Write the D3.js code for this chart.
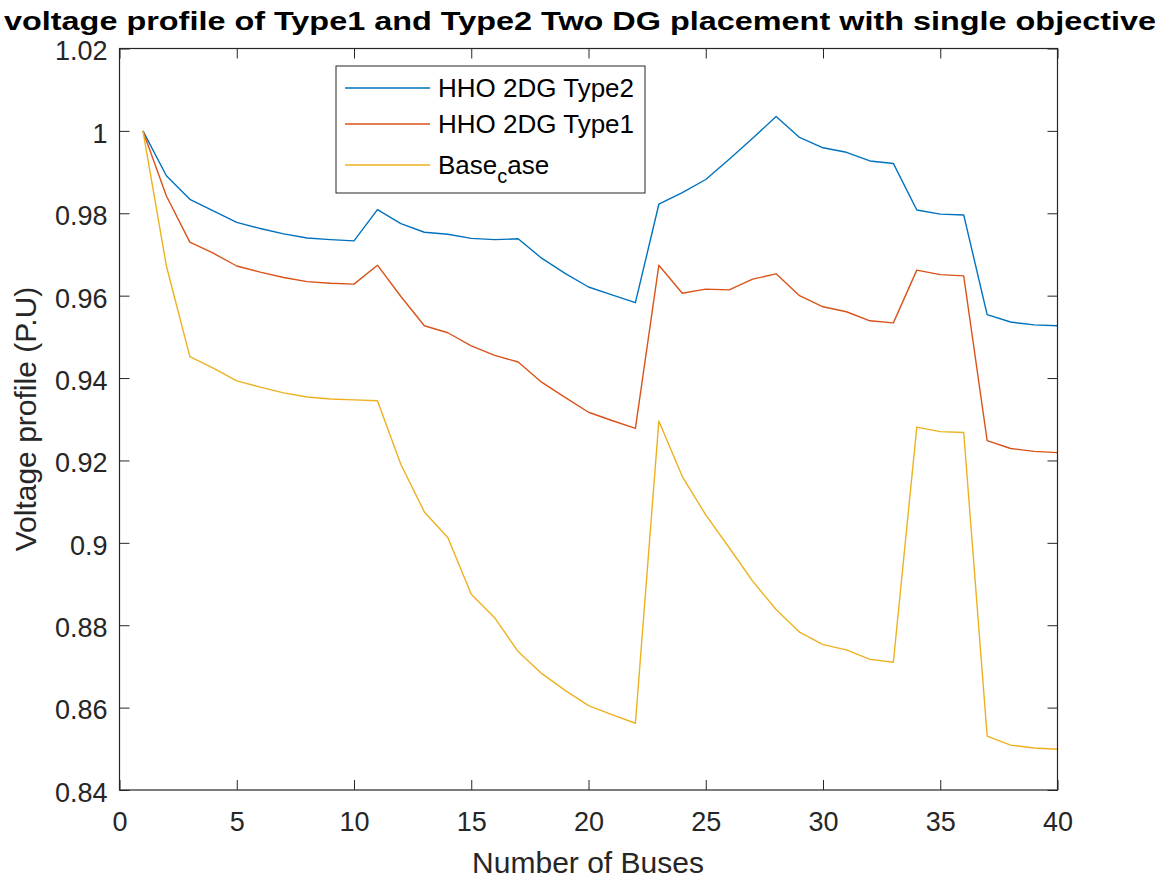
<!DOCTYPE html>
<html lang="en">
<head>
  <meta charset="UTF-8" />
  <title>Voltage profile</title>
  <script src="https://d3js.org/d3.v7.min.js"></script>
  <style>
    body { margin: 0; background: #fff; }
    svg { display: block; font-family: "Liberation Sans", Arial, sans-serif; }
  </style>
</head>
<body>
  <svg id="chart" width="1165" height="881"></svg>
  <script>
    const buses = d3.range(1, 41);

    const type2 = [1.0, 0.9891, 0.9834, 0.9806, 0.9778, 0.9763, 0.9750, 0.9740, 0.9736, 0.9733,
      0.9809, 0.9775, 0.9754, 0.9749, 0.9739, 0.9736, 0.9738, 0.9691, 0.9654, 0.9621,
      0.9602, 0.9583, 0.9822, 0.9850, 0.9882, 0.9931, 0.9982, 1.0035, 0.9984, 0.9959,
      0.9948, 0.9927, 0.9921, 0.9808, 0.9798, 0.9796, 0.9554, 0.9536, 0.9529, 0.9527];

    const type1 = [1.0, 0.9842, 0.9730, 0.9703, 0.9672, 0.9657, 0.9644, 0.9634, 0.9630, 0.9628,
      0.9674, 0.9598, 0.9527, 0.9510, 0.9478, 0.9455, 0.9439, 0.9390, 0.9353, 0.9317,
      0.9297, 0.9278, 0.9674, 0.9606, 0.9616, 0.9614, 0.9640, 0.9653, 0.9600, 0.9573,
      0.9561, 0.9539, 0.9534, 0.9662, 0.9651, 0.9648, 0.9248, 0.9229, 0.9222, 0.9219];

    const baseCase = [1.0, 0.9672, 0.9452, 0.9424, 0.9393, 0.9378, 0.9364, 0.9354, 0.9349, 0.9347,
      0.9345, 0.9190, 0.9075, 0.9013, 0.8875, 0.8818, 0.8736, 0.8683, 0.8642, 0.8605,
      0.8583, 0.8562, 0.9296, 0.9161, 0.9068, 0.8988, 0.8907, 0.8838, 0.8783, 0.8753,
      0.8740, 0.8717, 0.8710, 0.9281, 0.9270, 0.9268, 0.8531, 0.8509, 0.8502, 0.8499];

    const xTicks = [0, 5, 10, 15, 20, 25, 30, 35, 40];
    const yTicks = [0.84, 0.86, 0.88, 0.9, 0.92, 0.94, 0.96, 0.98, 1, 1.02];

    const series = [
      { name: 'HHO 2DG Type2', values: type2, color: '#0072BD' },
      { name: 'HHO 2DG Type1', values: type1, color: '#D95319' },
      { name: 'Base_case', values: baseCase, color: '#EDB120' }
    ];

    const svg = d3.select('#chart');
    const mLeft = 119.5, mRight = 1057.5, mTop = 48.5, mBottom = 790;
    const axisColor = '#262626';

    const x = d3.scaleLinear().domain([0, 40]).range([mLeft, mRight]);
    const y = d3.scaleLinear().domain([0.84, 1.02]).range([mBottom, mTop]);

    // lines
    const line = d3.line()
      .x((d, i) => x(buses[i]))
      .y(d => y(d));

    svg.append('g')
      .selectAll('path')
      .data(series)
      .join('path')
      .attr('fill', 'none')
      .attr('stroke', d => d.color)
      .attr('stroke-width', 1.4)
      .attr('stroke-linejoin', 'round')
      .attr('d', d => line(d.values));

    // axes (MATLAB style box with inward ticks)
    const tickLen = 10;
    const fmtY = v => String(+v.toFixed(2));

    svg.append('g')
      .attr('transform', `translate(0,${mBottom})`)
      .call(d3.axisBottom(x).tickValues(xTicks).tickSizeInner(-tickLen).tickSizeOuter(0).tickPadding(22))
      .call(g => g.select('.domain').remove());

    svg.append('g')
      .attr('transform', `translate(0,${mTop})`)
      .call(d3.axisTop(x).tickValues(xTicks).tickSizeInner(-tickLen).tickSizeOuter(0).tickFormat(''))
      .call(g => g.select('.domain').remove());

    svg.append('g')
      .attr('class', 'y-left')
      .attr('transform', `translate(${mLeft},0)`)
      .call(d3.axisLeft(y).tickValues(yTicks).tickSizeInner(-tickLen).tickSizeOuter(0).tickPadding(12).tickFormat(fmtY))
      .call(g => g.select('.domain').remove())
      .call(g => g.selectAll('text').attr('dy', '0.42em'));

    svg.append('g')
      .attr('transform', `translate(${mRight},0)`)
      .call(d3.axisRight(y).tickValues(yTicks).tickSizeInner(-tickLen).tickSizeOuter(0).tickFormat(''))
      .call(g => g.select('.domain').remove());

    svg.selectAll('.tick line').attr('stroke', axisColor).attr('stroke-width', 1);
    svg.selectAll('.tick text')
      .attr('fill', axisColor)
      .attr('font-size', 27)
      .attr('font-family', '"Liberation Sans", Arial, sans-serif');

    svg.append('rect')
      .attr('x', mLeft).attr('y', mTop)
      .attr('width', mRight - mLeft).attr('height', mBottom - mTop)
      .attr('fill', 'none')
      .attr('stroke', axisColor)
      .attr('stroke-width', 1.2);

    // labels
    svg.append('text')
      .attr('x', 588)
      .attr('y', 873)
      .attr('text-anchor', 'middle')
      .attr('font-size', 30)
      .attr('fill', axisColor)
      .text('Number of Buses');

    svg.append('text')
      .attr('transform', 'translate(36,419) rotate(-90)')
      .attr('text-anchor', 'middle')
      .attr('font-size', 30)
      .attr('fill', axisColor)
      .text('Voltage profile (P.U)');

    svg.append('text')
      .attr('x', 580)
      .attr('y', 30)
      .attr('text-anchor', 'middle')
      .attr('font-size', 26)
      .attr('font-weight', 'bold')
      .attr('fill', '#000')
      .attr('textLength', 1152)
      .attr('lengthAdjust', 'spacingAndGlyphs')
      .text('voltage profile of Type1 and Type2 Two DG placement with single objective');

    // legend
    const legend = svg.append('g').attr('transform', 'translate(336,66)');
    legend.append('rect')
      .attr('width', 309).attr('height', 127)
      .attr('fill', '#fff')
      .attr('stroke', axisColor)
      .attr('stroke-width', 1);

    const rowY = [22, 58, 99];
    const item = legend.selectAll('g.item')
      .data(series)
      .join('g')
      .attr('class', 'item')
      .attr('transform', (d, i) => `translate(0,${rowY[i]})`);

    item.append('line')
      .attr('x1', 9).attr('x2', 94)
      .attr('stroke', d => d.color)
      .attr('stroke-width', 1.4);

    item.append('text')
      .attr('x', 102)
      .attr('y', 9)
      .attr('font-size', 26)
      .attr('fill', '#000')
      .each(function (d) {
        const t = d3.select(this);
        const parts = d.name.split('_');
        if (parts.length === 1) { t.text(d.name); return; }
        t.append('tspan').text(parts[0]);
        t.append('tspan').attr('dy', 9).attr('font-size', 20).text(parts[1][0]);
        t.append('tspan').attr('dy', -9).text(parts[1].slice(1));
      });
  </script>
</body>
</html>
